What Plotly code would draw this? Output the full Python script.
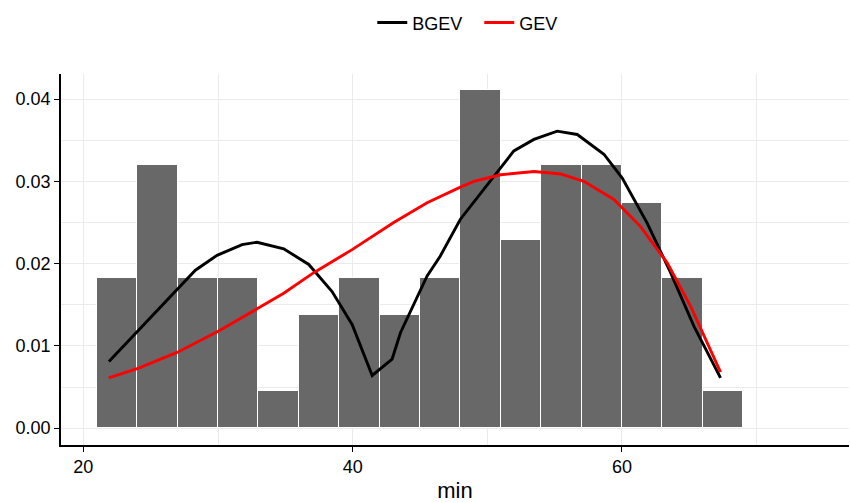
import plotly.graph_objects as go

# Histogram (density), bin width 3 starting at 21
bin_centers = [22.5, 25.5, 28.5, 31.5, 34.5, 37.5, 40.5, 43.5,
               46.5, 49.5, 52.5, 55.5, 58.5, 61.5, 64.5, 67.5]
density = [0.01826, 0.03196, 0.01826, 0.01826, 0.00457, 0.0137, 0.01826, 0.0137,
           0.01826, 0.0411, 0.02283, 0.03196, 0.03196, 0.0274, 0.01826, 0.00457]
bin_width = 3

# BGEV fitted density
bgev_x = [21.9, 24.1, 26.96, 28.32, 29.93, 31.79, 32.9, 34.88, 36.74, 38.47, 39.96,
          41.45, 42.93, 43.55, 45.53, 46.5, 48.0, 50.85, 51.97, 53.46, 55.19,
          56.68, 58.66, 60.02, 61.88, 63.61, 65.34, 67.32]
bgev_y = [0.0081, 0.0119, 0.0168, 0.0192, 0.0210, 0.0223, 0.0226, 0.0218, 0.0199, 0.0166, 0.0126,
          0.0064, 0.0084, 0.0116, 0.0185, 0.0209, 0.0254, 0.0313, 0.0337, 0.0351, 0.0361,
          0.0357, 0.0333, 0.0304, 0.0249, 0.0189, 0.0124, 0.0061]

# GEV fitted density
gev_x = [21.88, 24.11, 26.96, 30.05, 32.9, 34.88, 37.11, 39.96, 43.05, 45.53, 48.0,
         49.0, 50.98, 53.46, 55.44, 57.17, 59.4, 61.38, 63.36, 65.1, 67.32]
gev_y = [0.0061, 0.0073, 0.0092, 0.0118, 0.0145, 0.0164, 0.0189, 0.0217, 0.0250, 0.0274, 0.0293,
         0.0300, 0.0308, 0.0312, 0.0309, 0.0300, 0.0278, 0.0245, 0.0201, 0.0148, 0.0068]

FONT = "Liberation Sans, Arial, sans-serif"

fig = go.Figure()
fig.add_trace(go.Bar(
    x=bin_centers, y=density, width=[bin_width] * len(bin_centers),
    marker=dict(color="#686868", line=dict(color="white", width=1)),
    showlegend=False, hoverinfo="x+y"))
fig.add_trace(go.Scatter(
    x=bgev_x, y=bgev_y, mode="lines", name="BGEV",
    line=dict(color="black", width=2.9)))
fig.add_trace(go.Scatter(
    x=gev_x, y=gev_y, mode="lines", name="GEV",
    line=dict(color="red", width=2.9)))

fig.update_layout(
    width=850, height=503,
    margin=dict(l=61, r=1, t=74, b=58, autoexpand=False),
    paper_bgcolor="white", plot_bgcolor="white",
    font=dict(family=FONT, size=17, color="black"),
    bargap=0,
    showlegend=True,
    legend=dict(orientation="h", x=0.395, xanchor="left", y=1.138, yanchor="middle",
                font=dict(size=18, color="black"), entrywidth=62,
                bgcolor="rgba(0,0,0,0)"),
)
fig.update_xaxes(
    automargin=False,
    range=[18.34, 76.86], tickvals=[20, 40, 60], ticktext=["20", "40", "60"],
    showgrid=True, gridcolor="#ebebeb", gridwidth=1.2,
    minor=dict(tickvals=[30, 50, 70], showgrid=True, gridcolor="#ebebeb", gridwidth=0.8),
    zeroline=False, showline=True, linecolor="black", linewidth=1.5,
    ticks="outside", ticklen=5, tickcolor="black", tickwidth=1.2,
    tickfont=dict(size=18, color="black"),
    title=dict(text="min", font=dict(size=22, color="black"), standoff=6),
)
fig.update_yaxes(
    automargin=False,
    range=[-0.00205, 0.04305], tickvals=[0, 0.01, 0.02, 0.03, 0.04],
    ticktext=["0.00", "0.01", "0.02", "0.03", "0.04"],
    showgrid=True, gridcolor="#ebebeb", gridwidth=1.2,
    minor=dict(tickvals=[0.005, 0.015, 0.025, 0.035], showgrid=True, gridcolor="#ebebeb", gridwidth=0.8),
    zeroline=False, showline=True, linecolor="black", linewidth=1.5,
    ticks="outside", ticklen=5, tickcolor="black", tickwidth=1.2,
    tickfont=dict(size=18, color="black"),
)

fig.write_html("out.html", config={"displayModeBar": False},
               post_script="document.body.style.margin='0';document.body.style.overflow='hidden';")
